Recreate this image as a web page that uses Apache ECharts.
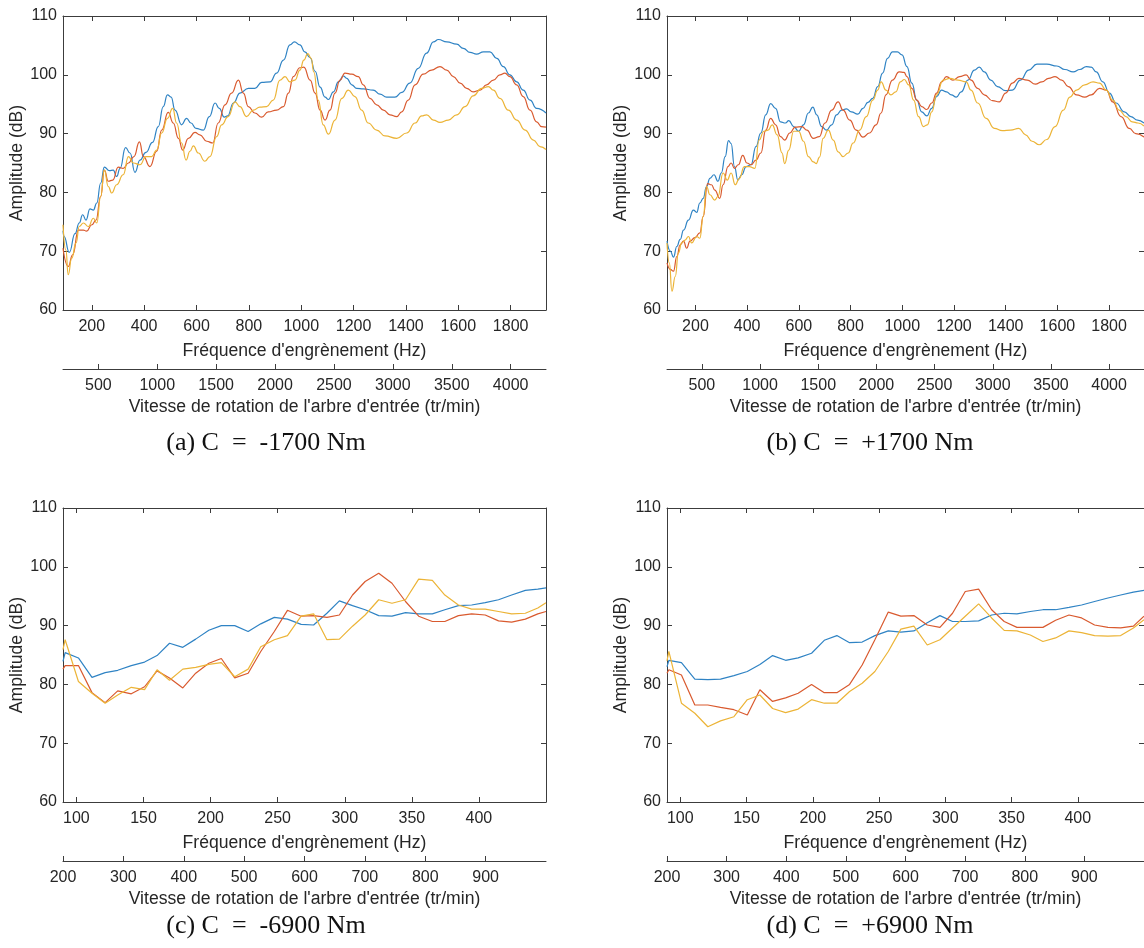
<!DOCTYPE html>
<html><head><meta charset="utf-8">
<script src="https://cdn.jsdelivr.net/npm/echarts@6/dist/echarts.min.js"></script>
<style>html,body{margin:0;padding:0;background:#fff}#c{width:1144px;height:948px}</style>
</head><body><div id="c"></div>
<script>
// ---------- Panel (a) C = -1700 Nm : [frequency Hz, amplitude dB] ----------
const aBlue = [[90,73.5],[94,72.5],[114,69.8],[136,73.0],[152,74.8],[165,76.2],[178,75.3],[193,77.2],[206,77.0],[219,78.2],[234,81.6],[248,84.3],[267,83.7],[282,83.8],[295,82.7],[308,84.1],[329,87.6],[346,86.7],[365,83.4],[384,85.5],[407,86.8],[432,88.5],[454,91.2],[473,94.6],[489,96.6],[503,96.2],[518,94.0],[543,91.5],[562,92.6],[579,91.8],[598,90.9],[626,90.6],[649,92.9],[671,95.2],[687,94.3],[706,92.8],[719,93.0],[741,95.2],[766,96.9],[798,97.7],[823,97.7],[849,98.7],[881,98.8],[906,100.3],[932,102.5],[957,105.1],[974,105.6],[995,105.1],[1014,103.9],[1034,102.9],[1053,100.6],[1072,97.9],[1091,96.2],[1104,95.8],[1123,97.1],[1142,98.8],[1161,99.8],[1174,99.4],[1193,98.3],[1212,97.7],[1237,97.6],[1275,97.4],[1301,96.7],[1326,96.2],[1358,96.2],[1384,97.0],[1415,98.6],[1447,101.1],[1479,103.7],[1505,105.6],[1524,106.0],[1556,105.6],[1594,105.2],[1619,104.5],[1645,103.8],[1670,103.5],[1696,103.9],[1721,103.9],[1747,102.8],[1772,101.4],[1797,100.0],[1823,98.8],[1848,97.4],[1874,95.7],[1899,94.3],[1935,93.5]];
const aRed = [[90,70.5],[110,67.4],[127,69.4],[149,73.6],[168,73.6],[180,73.4],[200,74.5],[216,75.3],[234,79.3],[248,83.8],[263,81.9],[280,82.1],[301,84.3],[320,84.1],[340,85.0],[361,86.1],[382,88.6],[397,86.1],[422,84.4],[448,87.0],[467,90.6],[492,93.6],[511,91.8],[531,89.2],[547,87.2],[569,89.2],[594,90.2],[613,89.8],[639,88.7],[662,88.4],[683,91.8],[709,94.9],[734,96.9],[760,99.1],[779,96.9],[798,94.6],[823,93.5],[849,92.8],[874,93.7],[906,94.0],[932,94.6],[951,96.9],[970,99.7],[995,101.2],[1010,101.3],[1034,99.1],[1053,96.9],[1072,94.0],[1091,92.3],[1110,94.0],[1129,96.9],[1148,99.1],[1167,100.3],[1193,100.1],[1218,99.7],[1237,98.3],[1263,96.0],[1288,94.9],[1314,94.0],[1339,93.2],[1365,92.9],[1384,93.7],[1409,95.7],[1435,98.3],[1466,100.1],[1498,100.8],[1530,101.4],[1556,100.8],[1581,99.7],[1607,98.6],[1632,97.7],[1657,97.1],[1683,97.4],[1708,98.3],[1734,99.1],[1759,100.0],[1778,100.3],[1797,99.7],[1823,98.3],[1848,96.3],[1874,94.0],[1899,92.0],[1918,91.2],[1935,91.1]];
const aYellow = [[90,74.5],[101,70.2],[110,66.0],[123,68.8],[140,71.4],[152,74.2],[168,74.8],[187,74.2],[206,75.6],[219,74.8],[234,79.3],[248,83.8],[263,81.0],[276,79.9],[295,81.3],[320,83.0],[340,86.1],[359,85.0],[384,84.7],[407,86.1],[429,86.1],[448,87.2],[467,90.1],[489,92.6],[509,94.3],[524,91.8],[543,88.4],[560,85.5],[575,87.0],[588,87.9],[607,86.7],[632,85.3],[651,86.1],[677,89.5],[696,91.5],[721,92.9],[747,95.4],[766,94.6],[791,92.9],[817,94.0],[842,94.5],[868,94.6],[893,95.7],[919,99.1],[938,99.7],[957,98.8],[976,99.1],[995,100.8],[1010,102.5],[1025,103.6],[1038,102.8],[1048,100.5],[1065,95.7],[1084,91.5],[1104,89.9],[1129,92.3],[1155,96.0],[1180,97.4],[1205,96.3],[1231,94.0],[1256,91.8],[1288,90.6],[1320,89.6],[1365,89.2],[1403,90.1],[1435,91.8],[1460,93.0],[1479,93.2],[1505,92.3],[1530,91.9],[1562,92.3],[1594,93.2],[1626,94.6],[1657,96.4],[1689,97.7],[1715,98.0],[1734,97.4],[1759,96.0],[1791,94.0],[1823,92.3],[1855,90.6],[1887,88.9],[1912,87.8],[1935,87.3]];

// ---------- Panel (b) C = +1700 Nm ----------
const bBlue = [[90,71.7],[103,70.0],[115,69.0],[128,70.8],[141,72.0],[154,73.6],[173,75.3],[192,77.0],[205,76.6],[217,78.2],[230,79.0],[243,81.0],[256,82.4],[272,83.0],[287,81.9],[300,83.3],[315,86.1],[328,88.8],[338,88.3],[351,84.4],[364,82.1],[379,83.0],[396,84.4],[415,84.7],[434,87.8],[453,90.1],[472,93.2],[491,95.1],[510,94.3],[529,92.0],[548,91.8],[561,92.2],[580,91.2],[599,90.4],[618,91.5],[637,93.5],[654,94.5],[669,93.2],[688,91.2],[707,90.6],[727,91.5],[746,93.2],[765,94.0],[784,94.2],[803,93.7],[828,93.3],[848,94.3],[867,95.3],[886,96.0],[905,98.0],[924,100.3],[943,102.8],[962,103.9],[981,103.9],[999,103.4],[1018,101.4],[1037,98.6],[1056,95.7],[1075,93.7],[1095,93.0],[1114,94.3],[1133,96.3],[1152,97.4],[1171,97.1],[1190,96.6],[1209,96.2],[1228,97.1],[1254,99.1],[1279,100.8],[1298,101.3],[1317,100.5],[1343,99.1],[1368,98.0],[1400,97.3],[1426,97.4],[1457,99.1],[1489,100.8],[1521,101.8],[1559,101.8],[1598,101.5],[1629,100.9],[1661,100.5],[1687,100.9],[1712,101.4],[1731,101.3],[1750,100.5],[1776,98.8],[1801,96.9],[1827,95.2],[1859,93.7],[1884,92.9],[1910,92.3],[1935,91.8]];
const bRed = [[90,68.0],[103,66.9],[115,66.6],[128,69.1],[141,71.1],[154,71.7],[166,70.5],[179,71.7],[198,72.3],[217,73.1],[230,75.9],[247,81.5],[262,81.3],[275,80.4],[294,79.0],[307,81.3],[326,84.4],[338,85.0],[351,84.1],[366,84.7],[383,86.3],[399,85.0],[415,84.7],[434,85.5],[453,86.7],[472,90.6],[491,92.6],[510,91.5],[529,89.5],[545,88.9],[565,90.1],[586,91.1],[612,91.2],[631,90.6],[656,89.2],[679,89.5],[701,91.8],[727,94.0],[752,95.4],[771,94.0],[797,92.3],[822,90.6],[848,89.4],[873,90.1],[899,91.5],[918,93.5],[937,96.6],[962,99.1],[988,100.5],[1007,100.4],[1018,99.7],[1037,97.7],[1056,95.7],[1075,94.6],[1095,94.1],[1114,95.2],[1133,96.9],[1152,98.8],[1171,99.7],[1196,99.1],[1222,99.7],[1247,100.0],[1266,99.1],[1292,97.7],[1317,96.6],[1349,95.6],[1375,95.4],[1400,96.9],[1426,98.6],[1451,99.4],[1483,99.1],[1515,98.4],[1540,98.8],[1566,99.4],[1591,99.7],[1617,99.1],[1642,98.0],[1674,96.6],[1706,96.2],[1731,96.6],[1763,97.7],[1789,97.4],[1814,95.4],[1846,92.9],[1878,90.9],[1903,90.0],[1935,89.4]];
const bYellow = [[90,71.4],[99,68.0],[109,63.2],[122,65.7],[134,69.7],[147,71.4],[160,71.9],[173,72.5],[185,71.4],[205,72.5],[217,72.2],[230,75.9],[243,81.0],[256,79.6],[275,78.7],[287,79.3],[307,83.3],[323,82.1],[338,83.3],[354,81.3],[370,82.4],[389,84.4],[408,84.4],[430,84.1],[446,88.9],[465,90.4],[481,90.6],[497,91.5],[516,89.8],[535,86.7],[545,84.9],[561,87.2],[580,90.4],[599,90.4],[618,88.7],[637,86.1],[656,85.2],[667,84.9],[680,86.0],[694,89.2],[714,90.6],[733,88.9],[752,86.9],[771,86.1],[791,86.7],[810,88.4],[835,90.6],[861,92.9],[886,95.7],[905,97.4],[918,98.8],[937,97.4],[956,96.6],[975,97.1],[993,98.8],[1008,99.2],[1025,98.3],[1044,95.7],[1063,92.9],[1082,91.2],[1097,91.5],[1114,93.7],[1133,96.6],[1158,99.1],[1184,99.4],[1216,99.1],[1247,98.8],[1266,97.4],[1292,95.2],[1324,92.6],[1356,90.9],[1387,90.5],[1419,90.6],[1451,90.9],[1477,89.8],[1502,88.7],[1530,88.1],[1559,89.0],[1591,91.2],[1623,94.0],[1648,96.2],[1674,97.4],[1706,98.3],[1738,98.8],[1763,98.6],[1789,97.4],[1814,95.7],[1839,94.0],[1865,92.9],[1890,92.0],[1912,91.8],[1935,91.3]];

// ---------- Panel (c) C = -6900 Nm ----------
const cFreq = [90,91.6,101.5,111.6,121.4,130.8,140.9,150.8,160.1,169.4,179.3,188.9,198.7,208,218,228,237.4,247.5,257.3,267.5,276.8,286.7,296,305.8,315.2,325.3,335.2,345.3,355.1,365.3,374.6,384.7,394.6,404.7,414.6,424.4,434.6,443.9,450];
const cBlue = [83.9,85.4,84.5,81.2,82.0,82.4,83.2,83.8,84.9,87.0,86.3,87.7,89.2,90.0,90.0,89.0,90.3,91.4,91.1,90.2,90.1,92.1,94.2,93.4,92.7,91.7,91.6,92.2,92.0,92.0,92.7,93.4,93.5,93.9,94.4,95.2,96.0,96.2,96.4];
const cRed = [82.6,83.2,83.2,78.6,76.9,78.9,78.4,79.6,82.3,81.1,79.4,81.9,83.6,84.4,81.1,81.9,85.6,89.0,92.6,91.6,91.7,91.4,91.8,95.2,97.5,98.9,97.2,94.1,91.6,90.7,90.7,91.7,92.0,91.8,90.8,90.6,91.1,92.0,92.4];
const cYellow = [85.9,87.6,80.5,78.5,76.8,78.2,79.5,79.1,82.5,80.7,82.6,82.9,83.4,83.7,81.3,82.6,86.4,87.6,88.3,91.6,92.0,87.6,87.7,89.9,91.8,94.4,93.8,94.4,97.9,97.7,95.2,93.5,92.8,92.8,92.4,92.0,92.1,93.0,93.9];

// ---------- Panel (d) C = +6900 Nm ----------
const dFreq = [90,91.4,100.9,111,120.8,130.4,140.5,150.6,160.1,169.7,179.5,189,199.1,208.7,218.2,227.8,237.3,246.9,257,266.5,276.3,286.4,296,305.5,315.1,325.2,335,344.5,354.1,364.2,373.7,383.3,393.4,402.9,412.7,422.8,432.4,442,450];
const dBlue = [83.0,84.1,83.7,80.9,80.8,80.9,81.5,82.2,83.4,84.9,84.1,84.5,85.3,87.5,88.3,87.1,87.2,88.3,89.1,88.9,89.1,90.5,91.7,90.7,90.7,90.8,91.8,92.1,92.0,92.4,92.7,92.7,93.1,93.5,94.1,94.7,95.2,95.7,96.0];
const dRed = [81.9,82.5,81.6,76.5,76.5,76.1,75.7,74.8,79.1,77.1,77.7,78.5,80.0,78.6,78.6,80.0,83.3,87.6,92.3,91.6,91.7,90.1,89.7,92.1,95.8,96.2,92.7,90.7,89.7,89.7,89.7,90.9,91.8,91.3,90.1,89.7,89.6,89.9,91.6];
const dYellow = [84.0,85.6,76.8,75.1,72.8,73.8,74.5,77.4,78.2,75.9,75.2,75.8,77.4,76.8,76.8,78.8,80.2,82.2,85.6,89.4,89.9,86.7,87.6,89.6,91.6,93.7,91.3,89.2,89.1,88.4,87.3,87.9,89.1,88.8,88.3,88.2,88.3,89.6,91.0];

// ---------- Ticks, labels ----------
const freqTicksAB = [200,400,600,800,1000,1200,1400,1600,1800];
const rpmTicksAB = [500,1000,1500,2000,2500,3000,3500,4000];
const freqTicksCD = [100,150,200,250,300,350,400];
const rpmTicksCD = [200,300,400,500,600,700,800,900];
const ampTicks = {min: 60, max: 110, interval: 10};
const captions = ['(a) C\u2002=\u2002-1700 Nm', '(b) C\u2002=\u2002+1700 Nm', '(c) C\u2002=\u2002-6900 Nm', '(d) C\u2002=\u2002+6900 Nm'];
const freqName = "Fréquence d'engrènement (Hz)";
const rpmName = "Vitesse de rotation de l'arbre d'entrée (tr/min)";
const ampName = 'Amplitude (dB)';
const colors = ['#2f83c4', '#d95a2f', '#ecb437'];

const zip = (xs, ys) => xs.map((x, i) => [x, ys[i]]);

const panels = [
  {left: 63,  top: 16,  fr: [90, 1935], rr: [200, 4300], ft: freqTicksAB, rt: rpmTicksAB, data: [aBlue, aRed, aYellow], smooth: 0.5, cap: captions[0], capY: 443},
  {left: 667, top: 16,  fr: [90, 1935], rr: [200, 4300], ft: freqTicksAB, rt: rpmTicksAB, data: [bBlue, bRed, bYellow], smooth: 0.5, cap: captions[1], capY: 443},
  {left: 63,  top: 508, fr: [90, 450],  rr: [200, 1000], ft: freqTicksCD, rt: rpmTicksCD, data: [zip(cFreq, cBlue), zip(cFreq, cRed), zip(cFreq, cYellow)], smooth: false, cap: captions[2], capY: 926},
  {left: 667, top: 508, fr: [90, 450],  rr: [200, 1000], ft: freqTicksCD, rt: rpmTicksCD, data: [zip(dFreq, dBlue), zip(dFreq, dRed), zip(dFreq, dYellow)], smooth: false, cap: captions[3], capY: 926}
];

const W = 483, H = 294;
const axisColor = '#3c3c3c';
const textColor = '#262626';
const sans = "'Liberation Sans', Arial, sans-serif";
const lineSt = {color: axisColor, width: 1};
const plain = v => String(v);
const tickFont = {color: textColor, fontSize: 16, fontFamily: sans, formatter: plain};
const nameFont = {color: textColor, fontSize: 17.6, fontFamily: sans};

const grid = [], xAxis = [], yAxis = [], series = [], graphic = [];
panels.forEach((p, i) => {
  grid.push({left: p.left, top: p.top, width: W, height: H, containLabel: false});
  xAxis.push({type: 'value', gridIndex: i, position: 'bottom', min: p.fr[0], max: p.fr[1],
    axisLine: {show: true, onZero: false, lineStyle: lineSt},
    axisTick: {show: true, inside: true, length: 5, customValues: p.ft, lineStyle: lineSt},
    axisLabel: {show: true, customValues: p.ft, margin: 9, ...tickFont},
    splitLine: {show: false},
    name: freqName, nameLocation: 'middle', nameGap: 32, nameTextStyle: nameFont});
  xAxis.push({type: 'value', gridIndex: i, position: 'top', min: p.fr[0], max: p.fr[1],
    axisLine: {show: true, onZero: false, lineStyle: lineSt},
    axisTick: {show: true, inside: true, length: 5, customValues: p.ft, lineStyle: lineSt},
    axisLabel: {show: false}, splitLine: {show: false}});
  xAxis.push({type: 'value', gridIndex: i, position: 'bottom', offset: 59, min: p.rr[0], max: p.rr[1],
    axisLine: {show: true, onZero: false, lineStyle: lineSt},
    axisTick: {show: true, inside: true, length: 5, customValues: p.rt, lineStyle: lineSt},
    axisLabel: {show: true, customValues: p.rt, margin: 9, ...tickFont},
    splitLine: {show: false},
    name: rpmName, nameLocation: 'middle', nameGap: 29, nameTextStyle: nameFont});
  yAxis.push({type: 'value', gridIndex: i, position: 'left', min: ampTicks.min, max: ampTicks.max, interval: ampTicks.interval,
    axisLine: {show: true, onZero: false, lineStyle: lineSt},
    axisTick: {show: true, inside: true, length: 5, lineStyle: lineSt},
    axisLabel: {show: true, margin: 6, ...tickFont},
    splitLine: {show: false},
    name: ampName, nameLocation: 'middle', nameGap: 36, nameRotate: 90, nameTextStyle: nameFont});
  yAxis.push({type: 'value', gridIndex: i, position: 'right', min: ampTicks.min, max: ampTicks.max, interval: ampTicks.interval,
    axisLine: {show: true, onZero: false, lineStyle: lineSt},
    axisTick: {show: true, inside: true, length: 5, lineStyle: lineSt},
    axisLabel: {show: false}, splitLine: {show: false}});
  p.data.forEach((d, k) => {
    series.push({type: 'line', xAxisIndex: i * 3, yAxisIndex: i * 2, data: d,
      showSymbol: false, smooth: p.smooth, smoothMonotone: p.smooth ? 'x' : undefined,
      lineStyle: {color: colors[k], width: 1.2}, itemStyle: {color: colors[k]},
      clip: true, animation: false, silent: true});
  });
  graphic.push({type: 'text', x: p.left + 203, y: p.capY,
    style: {text: p.cap, fill: '#111', font: "26px 'Liberation Serif', 'Times New Roman', serif",
      textAlign: 'center', textVerticalAlign: 'middle'}});
});

const chart = echarts.init(document.getElementById('c'), null, {renderer: 'canvas'});
chart.setOption({backgroundColor: '#fff', animation: false, grid, xAxis, yAxis, series, graphic});
</script>
</body></html>
